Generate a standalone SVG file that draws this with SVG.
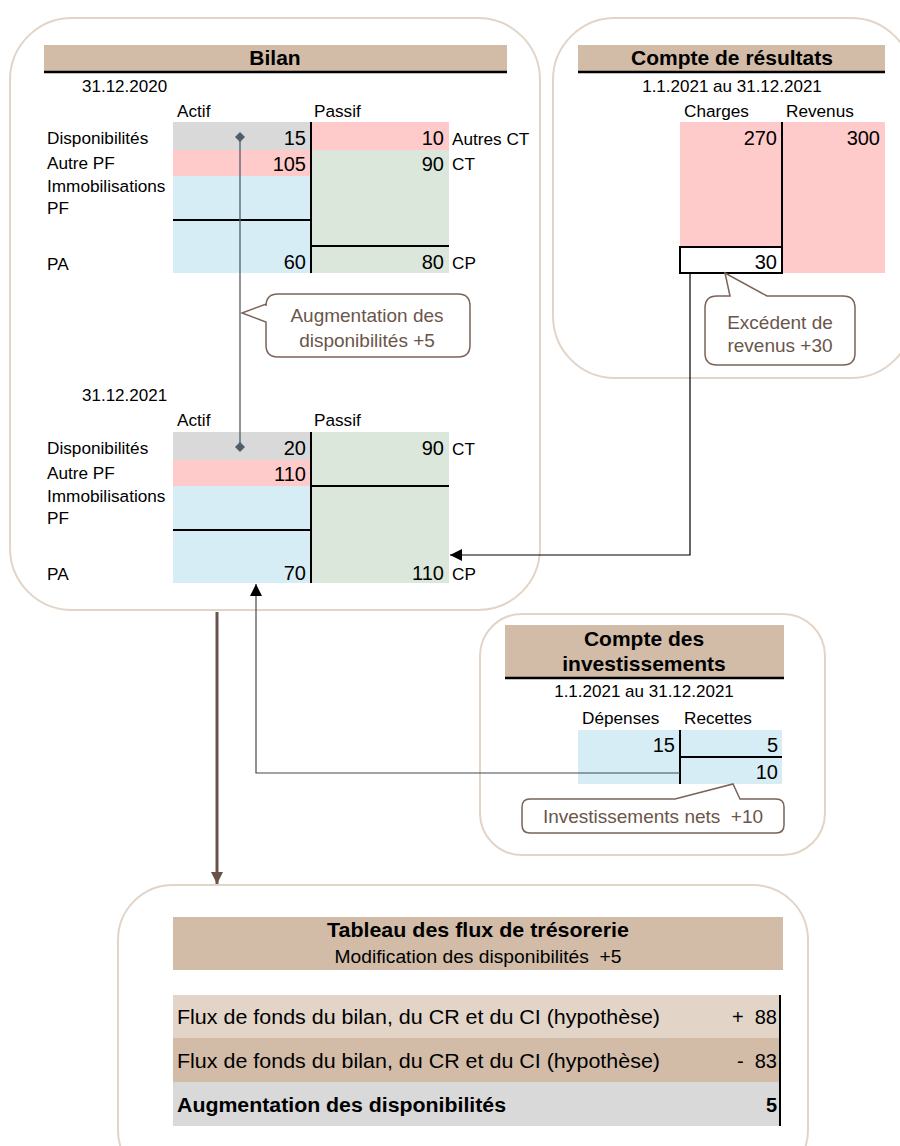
<svg xmlns="http://www.w3.org/2000/svg" width="900" height="1146" viewBox="0 0 900 1146">
  <defs>
    <style>
      text { font-family: "Liberation Sans", Arial, sans-serif; fill: #000; }
      .panel { fill: #fff; stroke: #e2d4c7; stroke-width: 2; }
      .hdr { fill: #d2bca8; }
      .rule { stroke: #000; stroke-width: 2.5; fill: none; }
      .thin { stroke: #000; stroke-width: 2; fill: none; }
      .lbl { font-size: 17.2px; }
      .num { font-size: 20px; text-anchor: end; }
      .title { font-size: 21px; font-weight: bold; text-anchor: middle; }
      .date { font-size: 17px; }
      .mid { text-anchor: middle; }
      .grey { fill: #d9d9d9; }
      .pink { fill: #ffcaca; }
      .green { fill: #dbe7da; }
      .blue { fill: #d6edf6; }
      .callout { fill: #fff; stroke: #7a6357; stroke-width: 1.5; }
      .ctext { font-size: 19px; fill: #6b554a; text-anchor: middle; }
      .link { stroke: #4e5d68; stroke-width: 1.3; fill: none; }
      .row { font-size: 20px; }
    </style>
    <marker id="dia" viewBox="0 0 10 10" refX="5" refY="5" markerWidth="10" markerHeight="10" markerUnits="userSpaceOnUse" orient="auto">
      <path d="M0,5 L5,0 L10,5 L5,10 Z" fill="#4e5d68"/>
    </marker>
    <marker id="arr" viewBox="0 0 10 10" refX="10" refY="5" markerWidth="12" markerHeight="12" markerUnits="userSpaceOnUse" orient="auto">
      <path d="M0,0 L10,5 L0,10 Z" fill="#000"/>
    </marker>
    <marker id="arrBrown" viewBox="0 0 10 10" refX="10" refY="5" markerWidth="12" markerHeight="12" markerUnits="userSpaceOnUse" orient="auto">
      <path d="M0,0 L10,5 L0,10 Z" fill="#6b5247"/>
    </marker>
  </defs>

  <!-- Balance sheet panel -->
  <g id="bilan">
    <rect class="panel" x="10" y="18" width="530" height="592" rx="62"/>
    <rect class="hdr" x="44" y="45" width="463" height="26"/>
    <line class="rule" x1="44" y1="72" x2="507" y2="72"/>
    <text class="title" x="275" y="65">Bilan</text>

    <!-- 31.12.2020 -->
    <text class="date" x="82" y="92">31.12.2020</text>
    <text class="lbl" x="177" y="117">Actif</text>
    <text class="lbl" x="314" y="117">Passif</text>
    <rect class="grey" x="173" y="122" width="138" height="28"/>
    <rect class="pink" x="173" y="150" width="138" height="26"/>
    <rect class="blue" x="173" y="176" width="138" height="97"/>
    <rect class="pink" x="311" y="122" width="138" height="28"/>
    <rect class="green" x="311" y="150" width="138" height="123"/>
    <line class="thin" x1="173" y1="220" x2="311" y2="220"/>
    <line class="thin" x1="311" y1="246" x2="449" y2="246"/>
    <line class="thin" x1="311" y1="122" x2="311" y2="273"/>
    <text class="lbl" x="47" y="144">Disponibilités</text>
    <text class="lbl" x="47" y="169">Autre PF</text>
    <text class="lbl" x="47" y="192">Immobilisations</text>
    <text class="lbl" x="47" y="214">PF</text>
    <text class="lbl" x="47" y="270">PA</text>
    <text class="num" x="306" y="145">15</text>
    <text class="num" x="306" y="171">105</text>
    <text class="num" x="306" y="269">60</text>
    <text class="num" x="444" y="145">10</text>
    <text class="num" x="444" y="171">90</text>
    <text class="num" x="444" y="269">80</text>
    <text class="lbl" x="452" y="145">Autres CT</text>
    <text class="lbl" x="452" y="170">CT</text>
    <text class="lbl" x="452" y="269">CP</text>

    <!-- 31.12.2021 -->
    <text class="date" x="82" y="401">31.12.2021</text>
    <text class="lbl" x="177" y="426">Actif</text>
    <text class="lbl" x="314" y="426">Passif</text>
    <rect class="grey" x="173" y="432" width="138" height="28"/>
    <rect class="pink" x="173" y="460" width="138" height="26"/>
    <rect class="blue" x="173" y="486" width="138" height="97"/>
    <rect class="green" x="311" y="432" width="138" height="151"/>
    <line class="thin" x1="173" y1="530" x2="311" y2="530"/>
    <line class="thin" x1="311" y1="486" x2="449" y2="486"/>
    <line class="thin" x1="311" y1="432" x2="311" y2="583"/>
    <text class="lbl" x="47" y="454">Disponibilités</text>
    <text class="lbl" x="47" y="479">Autre PF</text>
    <text class="lbl" x="47" y="502">Immobilisations</text>
    <text class="lbl" x="47" y="524">PF</text>
    <text class="lbl" x="47" y="580">PA</text>
    <text class="num" x="306" y="455">20</text>
    <text class="num" x="306" y="481">110</text>
    <text class="num" x="306" y="580">70</text>
    <text class="num" x="444" y="455">90</text>
    <text class="num" x="444" y="580">110</text>
    <text class="lbl" x="452" y="455">CT</text>
    <text class="lbl" x="452" y="580">CP</text>
  </g>

  <!-- Income statement panel -->
  <g id="compte-resultats">
    <rect class="panel" x="553" y="18" width="360" height="360" rx="62"/>
    <rect class="hdr" x="578" y="45" width="307" height="26"/>
    <line class="rule" x1="578" y1="72" x2="885" y2="72"/>
    <text class="title" x="732" y="65">Compte de résultats</text>
    <text class="date mid" x="732" y="92">1.1.2021 au 31.12.2021</text>
    <text class="lbl" x="684" y="117">Charges</text>
    <text class="lbl" x="786" y="117">Revenus</text>
    <rect class="pink" x="680" y="122" width="205" height="151"/>
    <rect x="680" y="247" width="102" height="26" fill="#fff" stroke="#000" stroke-width="2"/>
    <line class="thin" x1="782" y1="122" x2="782" y2="273"/>
    <text class="num" x="777" y="145">270</text>
    <text class="num" x="880" y="145">300</text>
    <text class="num" x="777" y="269">30</text>
  </g>

  <!-- Investment account panel -->
  <g id="compte-investissements">
    <rect class="panel" x="480" y="614" width="345" height="241" rx="42"/>
    <rect class="hdr" x="505" y="625" width="279" height="52"/>
    <line class="rule" x1="505" y1="678" x2="784" y2="678"/>
    <text class="title" x="644" y="646">Compte des</text>
    <text class="title" x="644" y="671">investissements</text>
    <text class="date mid" x="644" y="697">1.1.2021 au 31.12.2021</text>
    <text class="lbl" x="582" y="724">Dépenses</text>
    <text class="lbl" x="684" y="724">Recettes</text>
    <rect class="blue" x="578" y="730" width="204" height="54"/>
    <line class="thin" x1="680" y1="730" x2="680" y2="784"/>
    <line class="thin" x1="680" y1="757" x2="782" y2="757"/>
    <text class="num" x="675" y="752">15</text>
    <text class="num" x="778" y="752">5</text>
    <text class="num" x="778" y="779">10</text>
  </g>

  <!-- Cash flow statement panel -->
  <g id="tableau-flux">
    <rect class="panel" x="118" y="885" width="690" height="300" rx="55"/>
    <rect class="hdr" x="173" y="917" width="610" height="53"/>
    <text class="title" x="478" y="937" font-size="20px" textLength="302" lengthAdjust="spacingAndGlyphs">Tableau des flux de trésorerie</text>
    <text class="mid" x="478" y="963" font-size="18px" textLength="287" lengthAdjust="spacingAndGlyphs" xml:space="preserve">Modification des disponibilités  +5</text>
    <rect x="173" y="995" width="607" height="43" fill="#e3d4c8"/>
    <rect class="hdr" x="173" y="1038" width="607" height="44"/>
    <rect class="grey" x="173" y="1082" width="607" height="44"/>
    <line class="thin" x1="780" y1="995" x2="780" y2="1126"/>
    <text class="row" x="177" y="1024" textLength="483" lengthAdjust="spacingAndGlyphs">Flux de fonds du bilan, du CR et du CI (hypothèse)</text>
    <text class="row" x="777" y="1024" text-anchor="end" xml:space="preserve">+  88</text>
    <text class="row" x="177" y="1068" textLength="483" lengthAdjust="spacingAndGlyphs">Flux de fonds du bilan, du CR et du CI (hypothèse)</text>
    <text class="row" x="777" y="1068" text-anchor="end" xml:space="preserve">-  83</text>
    <text class="row" x="177" y="1112" font-weight="bold" textLength="329" lengthAdjust="spacingAndGlyphs">Augmentation des disponibilités</text>
    <text class="row" x="777" y="1112" font-weight="bold" text-anchor="end">5</text>
  </g>

  <!-- Connectors -->
  <g id="connectors">
    <line class="link" x1="240" y1="137" x2="240" y2="447" marker-start="url(#dia)" marker-end="url(#dia)"/>
    <polyline points="690,274 690,555 450,555" fill="none" stroke="#000" stroke-width="1.2" marker-end="url(#arr)"/>
    <polyline points="680,773 256,773 256,584" fill="none" stroke="#3f4a52" stroke-width="1.2" marker-end="url(#arr)"/>
    <line x1="217" y1="612" x2="217" y2="884" stroke="#6b5247" stroke-width="3" marker-end="url(#arrBrown)"/>
  </g>

  <!-- Callouts -->
  <g id="callout-disponibilites">
    <path class="callout" d="M278,294 H458 Q470,294 470,306 V345 Q470,357 458,357 H278 Q266,357 266,345 V322 L242,313 L266,304 V306 Q266,294 278,294 Z"/>
    <text class="ctext" x="367" y="322">Augmentation des</text>
    <text class="ctext" x="367" y="347">disponibilités +5</text>
  </g>
  <g id="callout-excedent">
    <path class="callout" d="M717,296 H730 L725,273 L767,296 H843 Q855,296 855,308 V353 Q855,365 843,365 H717 Q705,365 705,353 V308 Q705,296 717,296 Z"/>
    <text class="ctext" x="780" y="329">Excédent de</text>
    <text class="ctext" x="780" y="352">revenus +30</text>
  </g>
  <g id="callout-investissements">
    <path class="callout" d="M530,799 H675 L733,784 L740,799 H776 Q784,799 784,807 V825 Q784,833 776,833 H530 Q522,833 522,825 V807 Q522,799 530,799 Z"/>
    <text class="ctext" x="653" y="823" xml:space="preserve">Investissements nets  +10</text>
  </g>
</svg>
